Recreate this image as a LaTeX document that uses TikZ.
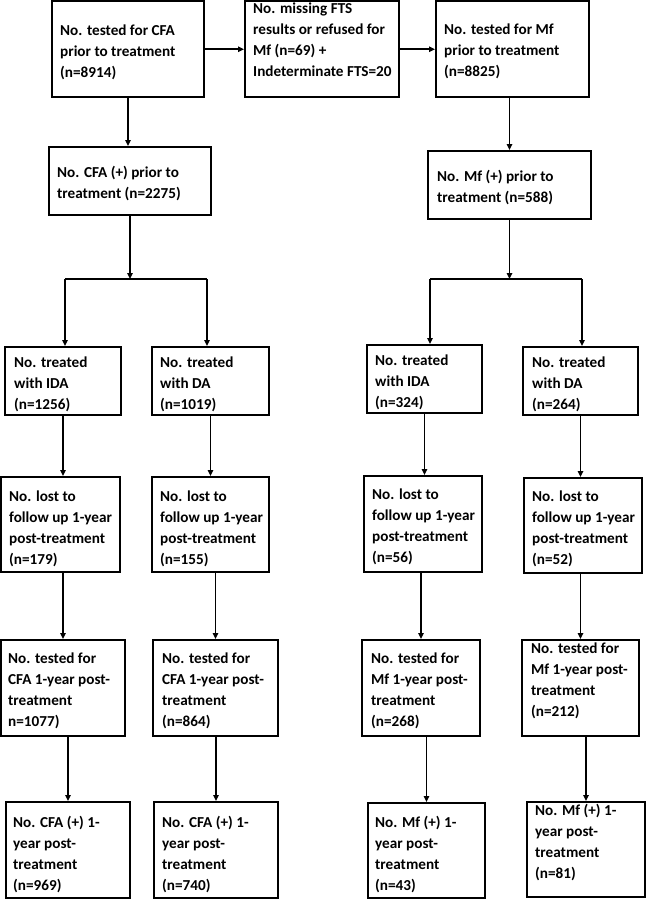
\documentclass[tikz,border=0pt]{standalone}
\usepackage{fontspec}
\setmainfont{Carlito}
\usetikzlibrary{arrows.meta}
\newcommand\boxat[5]{%
  \pgfmathsetmacro\myBW{#4-#2}\pgfmathsetmacro\myBH{#5-#3}%
  \node[boxst,minimum width=\myBW pt,minimum height=\myBH pt] (#1) at ({(#2+#4)/2},{(#3+#5)/2}) {};}
\newcommand\txtat[4]{\node[txt] (#1) at (#2,{#3-7}) {\rule{0pt}{12pt}#4};}
\begin{document}
\begin{tikzpicture}[x=1pt,y=-1pt,
  boxst/.style={draw=black, line width=2pt, inner sep=0pt},
  txt/.style={anchor=north west, inner sep=0pt, align=left, text=black,
              font=\fontsize{15.2}{21}\selectfont\bfseries},
  arr/.style={line width=1.6pt, -{Triangle[length=6pt,width=5.5pt]}},
  ln/.style={line width=1.6pt}]
\fill[white] (0,0) rectangle (646,899);
\useasboundingbox (0,0) rectangle (646,899);

% row 1
\boxat{A}{52}{1.5}{204}{97}
\txtat{At}{60}{30}{No. tested for CFA\\prior to treatment\\(n=8914)}
\boxat{B}{245}{1.5}{399}{97}
\txtat{Bt}{253}{8}{No. missing FTS\\results or refused for\\Mf (n=69) +\\Indeterminate FTS=20}
\boxat{C}{436}{1.5}{589}{97}
\txtat{Ct}{444}{29}{No. tested for Mf\\prior to treatment\\(n=8825)}

% row 2
\boxat{D}{49}{147}{211}{215}
\txtat{Dt}{57}{172}{No. CFA (+) prior to\\treatment (n=2275)}
\boxat{E}{428}{151}{591}{219}
\txtat{Et}{437}{176}{No. Mf (+) prior to\\treatment (n=588)}

% row 3
\boxat{idaC}{5}{347}{121}{415}
\txtat{idaCt}{14}{362}{No. treated\\with IDA\\(n=1256)}
\boxat{daC}{152}{347}{269}{415}
\txtat{daCt}{160}{362}{No. treated\\with DA\\(n=1019)}
\boxat{idaM}{367}{345}{482}{413}
\txtat{idaMt}{375}{360}{No. treated\\with IDA\\(n=324)}
\boxat{daM}{523}{347}{638}{415}
\txtat{daMt}{532}{362}{No. treated\\with DA\\(n=264)}

% row 4
\boxat{lostC1}{1}{477}{120}{572}
\txtat{lostC1t}{9}{496}{No. lost to\\follow up 1-year\\post-treatment\\(n=179)}
\boxat{lostC2}{152}{477}{269}{572}
\txtat{lostC2t}{160}{496}{No. lost to\\follow up 1-year\\post-treatment\\(n=155)}
\boxat{lostM1}{364}{476}{482}{572}
\txtat{lostM1t}{372}{494}{No. lost to\\follow up 1-year\\post-treatment\\(n=56)}
\boxat{lostM2}{524}{478}{642}{573}
\txtat{lostM2t}{532}{496}{No. lost to\\follow up 1-year\\post-treatment\\(n=52)}

% row 5
\boxat{testC1}{1}{640}{125}{736}
\txtat{testC1t}{8}{658}{No. tested for\\CFA 1-year post-\\treatment\\n=1077)}
\boxat{testC2}{153}{640}{278}{736}
\txtat{testC2t}{162}{658}{No. tested for\\CFA 1-year post-\\treatment\\(n=864)}
\boxat{testM1}{362}{640}{480}{736}
\txtat{testM1t}{371}{658}{No. tested for\\Mf 1-year post-\\treatment\\(n=268)}
\boxat{testM2}{522}{640}{639}{736}
\txtat{testM2t}{531}{648}{No. tested for\\Mf 1-year post-\\treatment\\(n=212)}

% row 6
\boxat{posC1}{6}{802}{130}{898}
\txtat{posC1t}{13}{822}{No. CFA (+) 1-\\year post-\\treatment\\(n=969)}
\boxat{posC2}{154}{802}{278}{898}
\txtat{posC2t}{162}{822}{No. CFA (+) 1-\\year post-\\treatment\\(n=740)}
\boxat{posM1}{368}{803}{485}{898}
\txtat{posM1t}{375}{822}{No. Mf (+) 1-\\year post-\\treatment\\(n=43)}
\boxat{posM2}{527}{802}{645}{897}
\txtat{posM2t}{535}{810}{No. Mf (+) 1-\\year post-\\treatment\\(n=81)}

% bracket junctions
\coordinate (jCL) at (65,279);
\coordinate (jCR) at (207,279);
\coordinate (jML) at (430,279);
\coordinate (jMR) at (582,279);

% connectors
\draw[arr] (A.east) -- (B.west);
\draw[arr] (B.east) -- (C.west);
\draw[arr] (A.south) -- (A.south |- D.north);
\draw[arr] (E.north |- C.south) -- (E.north);

\draw[arr] (D.south) -- (D.south |- jCL);
\draw[ln] (jCL) -- (jCR);
\draw[arr] (jCL) -- (jCL |- idaC.north);
\draw[arr] (jCR) -- (jCR |- daC.north);

\draw[arr] (E.south) -- (E.south |- jML);
\draw[ln] (jML) -- (jMR);
\draw[arr] (jML) -- (jML |- idaM.north);
\draw[arr] (jMR) -- (jMR |- daM.north);

\draw[arr] (idaC.south) -- (idaC.south |- lostC1.north);
\draw[arr] (daC.south) -- (daC.south |- lostC2.north);
\draw[arr] (idaM.south) -- (idaM.south |- lostM1.north);
\draw[arr] (daM.south) -- (daM.south |- lostM2.north);

\draw[arr] (testC1.north |- lostC1.south) -- (testC1.north);
\draw[arr] (testC2.north |- lostC2.south) -- (testC2.north);
\draw[arr] (testM1.north |- lostM1.south) -- (testM1.north);
\draw[arr] (testM2.north |- lostM2.south) -- (testM2.north);

\draw[arr] (posC1.north |- testC1.south) -- (posC1.north);
\draw[arr] (posC2.north |- testC2.south) -- (posC2.north);
\draw[arr] (posM1.north |- testM1.south) -- (posM1.north);
\draw[arr] (posM2.north |- testM2.south) -- (posM2.north);
\end{tikzpicture}
\end{document}
